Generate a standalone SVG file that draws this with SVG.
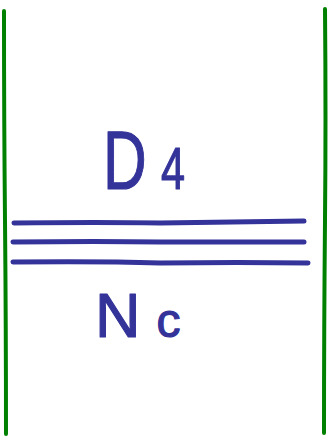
<svg xmlns="http://www.w3.org/2000/svg" width="328" height="436" viewBox="0 0 328 436">
<style>
.frame{fill:none;stroke:#008000;stroke-width:4;stroke-linecap:round}
.bar{fill:none;stroke:#333399;stroke-width:5;stroke-linecap:round}
.lbl{font-family:"Liberation Sans",Arial,sans-serif;fill:#333399;stroke:#333399;stroke-width:1.2;stroke-linejoin:round}
</style>
<rect width="328" height="436" fill="#ffffff"/>
<g id="frame">
<path class="frame" d="M4,11 Q4,120 5,220 Q6,330 6,434"/>
<path class="frame" d="M325,9 Q326,120 325,220 Q324,330 324,433"/>
</g>
<g id="connectors">
<path class="bar" d="M14,223 Q100,222 160,223 Q240,222 304,221"/>
<path class="bar" d="M13,242 Q100,241 160,242 Q240,242 304,242"/>
<path class="bar" d="M13,262 Q100,261 160,263 Q240,262 308,263"/>
</g>
<g id="label-top">
<text class="lbl" transform="translate(103,189) scale(0.72,1)" x="0" y="0"><tspan font-size="84">D</tspan><tspan font-size="60" dx="20">4</tspan></text>
</g>
<g id="label-bottom">
<text class="lbl" x="95" y="337"><tspan font-size="63">N</tspan><tspan font-size="48" dx="16">c</tspan></text>
</g>
</svg>
